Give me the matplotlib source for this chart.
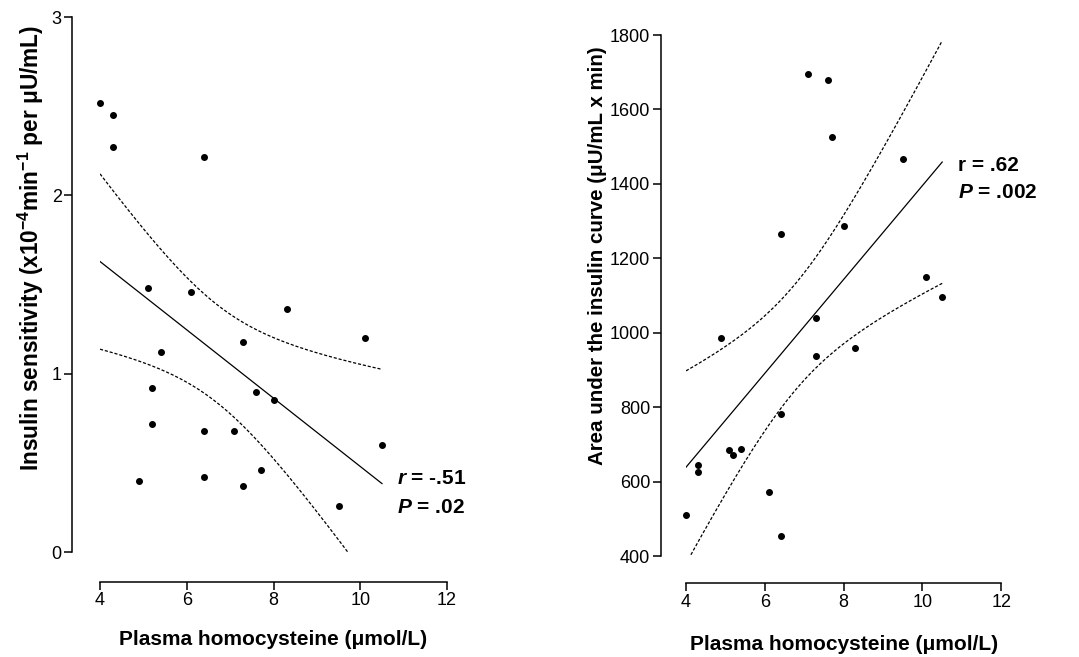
import numpy as np
import matplotlib
matplotlib.use('Agg')
import matplotlib.pyplot as plt

plt.rcParams['font.family'] = ['Liberation Sans', 'DejaVu Sans']
plt.rcParams['mathtext.fontset'] = 'custom'
plt.rcParams['mathtext.rm'] = 'Liberation Sans:bold'
plt.rcParams['mathtext.it'] = 'Liberation Sans:bold:italic'
plt.rcParams['mathtext.bf'] = 'Liberation Sans:bold'

# left panel: homocysteine vs insulin sensitivity
hcy_si = [4.0, 4.3, 4.3, 6.4, 5.1, 6.1, 8.3, 10.1, 7.3, 5.4, 5.2,
          7.6, 8.0, 5.2, 6.4, 7.1, 10.5, 7.7, 4.9, 6.4, 7.3, 9.5]
si = [2.52, 2.45, 2.27, 2.215, 1.48, 1.46, 1.36, 1.20, 1.18, 1.12, 0.92,
      0.90, 0.85, 0.72, 0.68, 0.68, 0.60, 0.46, 0.40, 0.42, 0.37, 0.26]

# right panel: homocysteine vs insulin AUC
hcy_auc = [7.1, 7.6, 7.7, 9.5, 8.0, 6.4, 10.1, 10.5, 7.3, 4.9, 7.3,
           8.3, 6.4, 5.1, 5.2, 5.4, 4.3, 4.3, 6.1, 4.0, 6.4]
auc = [1696, 1678, 1527, 1467, 1287, 1265, 1151, 1095, 1039, 986, 938,
       958, 782, 684, 672, 688, 645, 625, 571, 510, 453]

x_ticks = [4, 6, 8, 10, 12]
si_ticks = [0, 1, 2, 3]
auc_ticks = [400, 600, 800, 1000, 1200, 1400, 1600, 1800]


def fit_with_band(x, y, t_crit):
    x = np.asarray(x, float)
    y = np.asarray(y, float)
    n = len(x)
    slope, intercept = np.polyfit(x, y, 1)
    resid = y - (slope * x + intercept)
    s = np.sqrt(np.sum(resid**2) / (n - 2))
    sxx = np.sum((x - x.mean())**2)
    xs = np.linspace(x.min(), x.max(), 200)
    yhat = slope * xs + intercept
    half = t_crit * s * np.sqrt(1.0 / n + (xs - x.mean())**2 / sxx)
    return xs, yhat, yhat - half, yhat + half


def style_axis(ax, xoff, yoff):
    ax.spines['top'].set_visible(False)
    ax.spines['right'].set_visible(False)
    ax.spines['left'].set_position(('outward', xoff))
    ax.spines['bottom'].set_position(('outward', yoff))
    for sp in ('left', 'bottom'):
        ax.spines[sp].set_linewidth(1.1)
    ax.tick_params(direction='out', length=5.5, width=1.1, labelsize=13, pad=2)


fig = plt.figure(figsize=(10.79, 6.57), dpi=100)

# ---- left
ax1 = fig.add_axes([0.0927, 0.1598, 0.3216, 0.8143])
xs, yh, lo, hi = fit_with_band(hcy_si, si, 2.086)
ax1.plot(xs, yh, color='black', lw=0.9)
ax1.plot(xs, lo, color='black', lw=0.9, ls=(0, (2.5, 1.5)))
ax1.plot(xs, hi, color='black', lw=0.9, ls=(0, (2.5, 1.5)))
ax1.scatter(hcy_si, si, s=16, color='black', zorder=3, clip_on=False)
ax1.set_xlim(4, 12)
ax1.set_ylim(0, 3)
ax1.set_xticks(x_ticks)
ax1.set_yticks(si_ticks)
style_axis(ax1, 20, 21.5)
ax1.set_xlabel('Plasma homocysteine (μmol/L)', fontsize=15, fontweight='bold')
ax1.set_ylabel('Insulin sensitivity (x10$^{-4}$min$^{-1}$ per μU/mL)',
               fontsize=16.3, fontweight='bold')
ax1.xaxis.set_label_coords(0.5, -0.145)
ax1.yaxis.set_label_coords(-0.155, 0.568)
ax1.text(10.85, 0.415, '$\\mathit{r}$ = -.51', fontsize=15, fontweight='bold',
         va='center', ha='left', clip_on=False)
ax1.text(10.85, 0.252, '$\\mathit{P}$ = .02', fontsize=15, fontweight='bold',
         va='center', ha='left', clip_on=False)

# ---- right
ax2 = fig.add_axes([0.6358, 0.1537, 0.2922, 0.793])
xs, yh, lo, hi = fit_with_band(hcy_auc, auc, 2.093)
ax2.plot(xs, yh, color='black', lw=0.9)
ax2.plot(xs, lo, color='black', lw=0.9, ls=(0, (2.5, 1.5)))
ax2.plot(xs, hi, color='black', lw=0.9, ls=(0, (2.5, 1.5)))
ax2.scatter(hcy_auc, auc, s=16, color='black', zorder=3, clip_on=False)
ax2.set_xlim(4, 12)
ax2.set_ylim(400, 1800)
ax2.set_xticks(x_ticks)
ax2.set_yticks(auc_ticks)
style_axis(ax2, 18.2, 19.7)
ax2.set_xlabel('Plasma homocysteine (μmol/L)', fontsize=15, fontweight='bold')
ax2.set_ylabel('Area under the insulin curve (μU/mL x min)',
               fontsize=14.8, fontweight='bold')
ax2.xaxis.set_label_coords(0.5, -0.152)
ax2.yaxis.set_label_coords(-0.25, 0.576)
ax2.text(10.9, 1449, 'r = .62', fontsize=15, fontweight='bold',
         va='center', ha='left', clip_on=False)
ax2.text(10.9, 1377, '$\\mathit{P}$ = .002', fontsize=15, fontweight='bold',
         va='center', ha='left', clip_on=False)

fig.savefig('out.png', dpi=100)
